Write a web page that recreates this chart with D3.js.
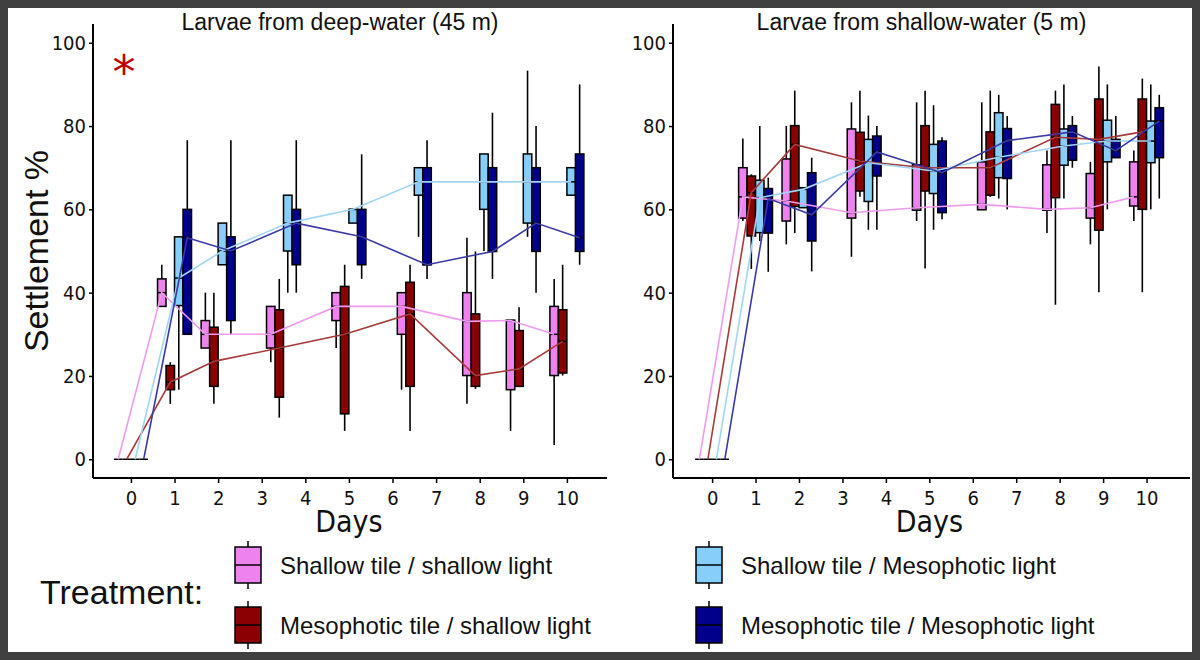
<!DOCTYPE html>
<html>
<head>
<meta charset="utf-8">
<script src="https://cdn.jsdelivr.net/npm/d3@7"></script>
<style>
  body { margin: 0; background: #404040; }
  svg { display: block; }
</style>
</head>
<body>
<svg id="chart" width="1200" height="660"></svg>
<script>
const days = [0, 1, 2, 3.5, 5, 6.5, 8, 9, 10];
const dayTicks = [0, 1, 2, 3, 4, 5, 6, 7, 8, 9, 10];
const yTicks = [0, 20, 40, 60, 80, 100];
const treatments = [
  "Shallow tile / shallow light",
  "Mesophotic tile / shallow light",
  "Shallow tile / Mesophotic light",
  "Mesophotic tile / Mesophotic light"
];
const fills = ["#ee82ee", "#8b0000", "#87cefa", "#00008b"];
const lineColors = ["#f09af0", "#a83a3a", "#9fd6f8", "#3a3aa8"];
const panelTitles = ["Larvae from deep-water (45 m)", "Larvae from shallow-water (5 m)"];

// each box: [lowWhisker, q1, median, q3, highWhisker], one row per day
const deepShallowShallow = [[0,0,0,0,0],[36.7,36.7,40,43.3,46.7],[26.7,26.7,30,33.3,40],[23.3,26.7,30,36.7,36.7],[26.7,33.3,36.7,40,40],[16.7,30,36.7,40,40],[13.3,20.1,33.1,40,53.2],[6.8,16.7,33.3,33.4,33.4],[3.4,20.1,30,36.7,43.3]];
const deepMesoShallow = [[0,0,0,0,0],[13.3,16.7,18.5,22.5,23.3],[13.3,17.5,23.5,31.7,40],[10,14.9,26.7,35.9,43.3],[6.8,10.9,30,41.5,46.7],[6.8,17.5,34.9,42.5,46.7],[16.9,17.5,20.1,34.9,49.9],[17.5,17.5,21.7,30.9,36.5],[20.1,20.7,28.3,35.9,46.7]];
const deepShallowMeso = [[0,0,0,0,0],[16.7,36.9,43.5,53.4,53.4],[46.7,46.7,50,56.7,56.7],[40,50,56.7,63.4,63.4],[56.7,56.7,60,60,60],[53.4,63.4,66.6,70,70],[50,60,66.6,73.3,73.3],[53.4,56.7,66.6,73.3,93.3],[63.4,63.4,66.6,70,70]];
const deepMesoMeso = [[0,0,0,0,0],[30,30,53.2,60,76.6],[30,33.3,50,53.4,76.6],[40,46.7,56.7,60,76.6],[43.3,46.7,53.4,60,73.2],[43.3,46.7,46.7,70,76.6],[43.3,49.9,49.9,70,83.2],[40,49.9,56.7,70,80],[46.7,49.9,53.2,73.3,90]];

const shallowShallowShallow = [[0,0,0,0,0],[57.2,57.9,63,70,77],[51.6,57.2,62,72.1,80],[48.6,57.9,59.2,79.3,85.7],[57.2,59.8,60.4,70.7,85.7],[59.9,59.9,61.2,71.4,85.7],[54.3,59.8,60,70.7,74.1],[51.6,57.9,60.4,68.6,71.4],[57.2,60.8,63,71.4,74.1]];
const shallowMesoShallow = [[0,0,0,0,0],[45.7,53.6,64,68,68.4],[54.3,60.7,75.6,80.1,88.5],[63,64.4,71.6,78.5,88.5],[45.8,64.4,70,80.1,88.5],[63,63.4,70,78.6,88.5],[37.1,62.8,77.3,85.2,88.5],[40.1,55,76.8,86.5,94.3],[40.1,60,78.6,86.5,91.4]];
const shallowShallowMeso = [[0,0,0,0,0],[52.4,54.4,62.8,67,80],[60.4,60.4,64.8,65.2,65.2],[55.1,61.9,71.2,76.8,82.5],[55.1,63.8,69.2,75.6,85],[62.6,67.6,72.5,83.2,87.5],[62.6,70.6,75.2,79.3,90],[60,71.4,76.4,81.4,90],[60,71.2,76.4,81.2,90]];
const shallowMesoMeso = [[0,0,0,0,0],[45,54.3,62.6,65,67.6],[45.1,52.4,58.7,68.8,72.4],[55.1,68,73.8,77.6,80],[57.6,59.2,68.8,76.4,77.3],[60,67.4,76.5,79.4,82.4],[70,71.8,78.6,80.1,82.4],[72.4,72.4,74.1,76.8,82.4],[62.6,72.4,81.2,84.4,87.5]];

const panels = [
  { series: [deepShallowShallow, deepMesoShallow, deepShallowMeso, deepMesoMeso], left: 93, right: 607, x0: -0.87, x1: 10.92, star: true },
  { series: [shallowShallowShallow, shallowMesoShallow, shallowShallowMeso, shallowMesoMeso], left: 673, right: 1190, x0: -0.9, x1: 11.0, star: false }
];

const svg = d3.select("svg#chart");
svg.append("rect").attr("x", 8).attr("y", 8).attr("width", 1184).attr("height", 644).attr("fill", "white");

const plotTop = 24, plotBottom = 478;
const y = d3.scaleLinear().domain([-4.5, 104.5]).range([plotBottom, plotTop]);
const dodge = 0.78, boxW = dodge / 4;
const tickFont = "'Liberation Sans Narrow', 'DejaVu Sans Condensed', sans-serif";

panels.forEach((p, pi) => {
  const x = d3.scaleLinear().domain([p.x0, p.x1]).range([p.left, p.right]);
  const g = svg.append("g");
  const bw = x(boxW) - x(0);
  const pos = (day, s) => x(day - dodge / 2 + boxW * (s + 0.5));

  // axes
  const yAxis = g.append("g").attr("transform", `translate(${p.left},0)`)
    .call(d3.axisLeft(y).tickValues(yTicks).tickSize(4).tickSizeOuter(0));
  const xAxis = g.append("g").attr("transform", `translate(0,${plotBottom})`)
    .call(d3.axisBottom(x).tickValues(dayTicks).tickSize(5).tickSizeOuter(0));
  [yAxis, xAxis].forEach(a => {
    a.select(".domain").attr("stroke-width", 2);
    a.selectAll(".tick line").attr("stroke-width", 1.5);
    a.selectAll("text").attr("font-family", tickFont).attr("font-size", 20).attr("fill", "#111");
  });
  yAxis.select(".domain").attr("d", `M0,${plotTop}V${plotBottom}`);
  xAxis.select(".domain").attr("d", `M${p.left},0H${p.right}`);
  xAxis.selectAll("text").attr("dy", "0.95em");

  g.append("text").attr("x", (p.left + p.right) / 2 - 10).attr("y", 30)
    .attr("text-anchor", "middle").attr("font-family", "'Liberation Sans', Arial, sans-serif")
    .attr("font-size", 23).attr("fill", "#111").text(panelTitles[pi]);
  g.append("text").attr("x", x(5)).attr("y", 532).attr("text-anchor", "middle")
    .attr("font-family", tickFont).attr("font-size", 30).attr("fill", "#111").text("Days");

  // boxes
  p.series.forEach((data, s) => {
    const sg = g.append("g");
    const rows = data.map((d, i) => ({ day: days[i], v: d }));
    sg.selectAll("line.wh").data(rows).join("line").attr("class", "wh")
      .attr("x1", d => pos(d.day, s)).attr("x2", d => pos(d.day, s))
      .attr("y1", d => y(d.v[0])).attr("y2", d => y(d.v[4]))
      .attr("stroke", "black").attr("stroke-width", 1.6);
    sg.selectAll("rect").data(rows).join("rect")
      .attr("x", d => pos(d.day, s) - bw / 2).attr("width", bw)
      .attr("y", d => y(d.v[3])).attr("height", d => y(d.v[1]) - y(d.v[3]))
      .attr("fill", fills[s]).attr("stroke", "black").attr("stroke-width", 1.5);
    sg.selectAll("line.md").data(rows).join("line").attr("class", "md")
      .attr("x1", d => pos(d.day, s) - bw / 2).attr("x2", d => pos(d.day, s) + bw / 2)
      .attr("y1", d => y(d.v[2])).attr("y2", d => y(d.v[2]))
      .attr("stroke", "black").attr("stroke-width", 1.5);
  });
  // median lines on top
  p.series.forEach((data, s) => {
    g.append("path")
      .datum(data.map((d, i) => [pos(days[i], s), y(d[2])]))
      .attr("d", d3.line()).attr("fill", "none")
      .attr("stroke", lineColors[s]).attr("stroke-width", 1.6);
  });

  if (p.star) {
    g.append("text").attr("x", 124).attr("y", 88).attr("text-anchor", "middle")
      .attr("font-family", "'DejaVu Sans', sans-serif").attr("font-size", 46)
      .attr("fill", "#c00000").text("*");
  }
});

svg.append("text").attr("transform", "translate(48,251) rotate(-90)").attr("text-anchor", "middle")
  .attr("font-family", "'Liberation Sans', Arial, sans-serif").attr("font-size", 34).attr("fill", "#111")
  .text("Settlement %");

// legend
svg.append("text").attr("x", 40).attr("y", 604).attr("font-family", "'Liberation Sans Narrow', 'Liberation Sans', sans-serif")
  .attr("font-size", 34).attr("fill", "#111").text("Treatment:");
const legPos = [[248, 565], [248, 625], [709, 565], [709, 625]];
treatments.forEach((t, s) => {
  const [lx, ly] = legPos[s];
  const lg = svg.append("g").attr("transform", `translate(${lx},${ly})`);
  lg.append("line").attr("y1", -24).attr("y2", 24).attr("stroke", "black").attr("stroke-width", 1.5);
  lg.append("rect").attr("x", -13).attr("y", -18).attr("width", 26).attr("height", 36)
    .attr("fill", fills[s]).attr("stroke", "black").attr("stroke-width", 1.5);
  lg.append("line").attr("x1", -13).attr("x2", 13).attr("stroke", "black").attr("stroke-width", 1.5);
  lg.append("text").attr("x", 32).attr("y", 9).attr("font-family", "'Liberation Sans', Arial, sans-serif")
    .attr("font-size", 24).attr("fill", "#111").text(t);
});
</script>
</body>
</html>
